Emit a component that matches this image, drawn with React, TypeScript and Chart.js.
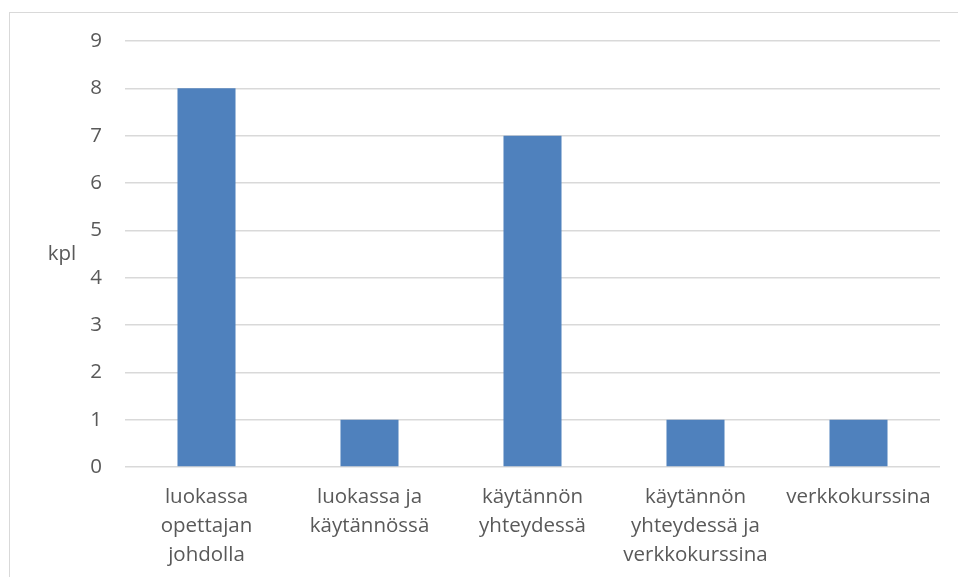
import React, { useEffect, useRef } from "react";
import { Chart, registerables } from "chart.js";

Chart.register(...registerables);

const categories: string[][] = [
  ["luokassa", "opettajan", "johdolla"],
  ["luokassa ja", "käytännössä"],
  ["käytännön", "yhteydessä"],
  ["käytännön", "yhteydessä ja", "verkkokurssina"],
  ["verkkokurssina"],
];
const values: number[] = [8, 1, 7, 1, 1];
const yTicks: number[] = [0, 1, 2, 3, 4, 5, 6, 7, 8, 9];
const yTitle = "kpl";

const FONT = "'Open Sans', sans-serif";
const TEXT = "#595959";

const kplPlugin = {
  id: "kplTitle",
  afterDraw(chart: any) {
    const { ctx, chartArea } = chart;
    ctx.save();
    ctx.font = `20.5px ${FONT}`;
    ctx.fillStyle = TEXT;
    ctx.textAlign = "center";
    ctx.textBaseline = "middle";
    ctx.fillText(yTitle, 62, (chartArea.top + chartArea.bottom) / 2);
    ctx.restore();
  },
};

export default function App() {
  const ref = useRef<HTMLCanvasElement | null>(null);
  useEffect(() => {
    if (!ref.current) return;
    const chart = new Chart(ref.current, {
      type: "bar",
      data: {
        labels: categories,
        datasets: [
          {
            data: values,
            backgroundColor: "#4f81bd",
            borderWidth: 0,
            barPercentage: 0.356,
            categoryPercentage: 1,
          },
        ],
      },
      options: {
        animation: false,
        responsive: false,
        devicePixelRatio: 1,
        layout: { padding: { left: 0, right: 18, top: 41, bottom: 0 } },
        plugins: { legend: { display: false }, tooltip: { enabled: false } },
        scales: {
          x: {
            grid: { display: false, drawTicks: false },
            border: { display: false },
            ticks: {
              color: TEXT,
              font: { family: FONT, size: 20.5, lineHeight: 1.4 },
              padding: 16,
              maxRotation: 0,
              autoSkip: false,
            },
            afterFit(scale: any) {
              scale.height = 110;
            },
          },
          y: {
            min: 0,
            max: 9,
            afterBuildTicks(scale: any) {
              scale.ticks = yTicks.map((v) => ({ value: v }));
            },
            grid: { color: "#d9d9d9", lineWidth: 1.5, drawTicks: false },
            border: { display: false },
            ticks: {
              color: TEXT,
              font: { family: FONT, size: 20.5 },
              padding: 23,
            },
            afterFit(scale: any) {
              scale.width = 125;
            },
          },
        },
      },
      plugins: [kplPlugin],
    });
    return () => chart.destroy();
  }, []);

  return (
    <div style={{ position: "fixed", left: 0, top: 0, width: 958, height: 577, overflow: "hidden", background: "#fff" }}>
      <div
        style={{
          position: "absolute",
          left: 9,
          top: 12,
          width: 1000,
          height: 700,
          border: "1px solid #d9d9d9",
        }}
      />
      <canvas ref={ref} width={958} height={577} style={{ position: "absolute", left: 0, top: 0 }} />
    </div>
  );
}
